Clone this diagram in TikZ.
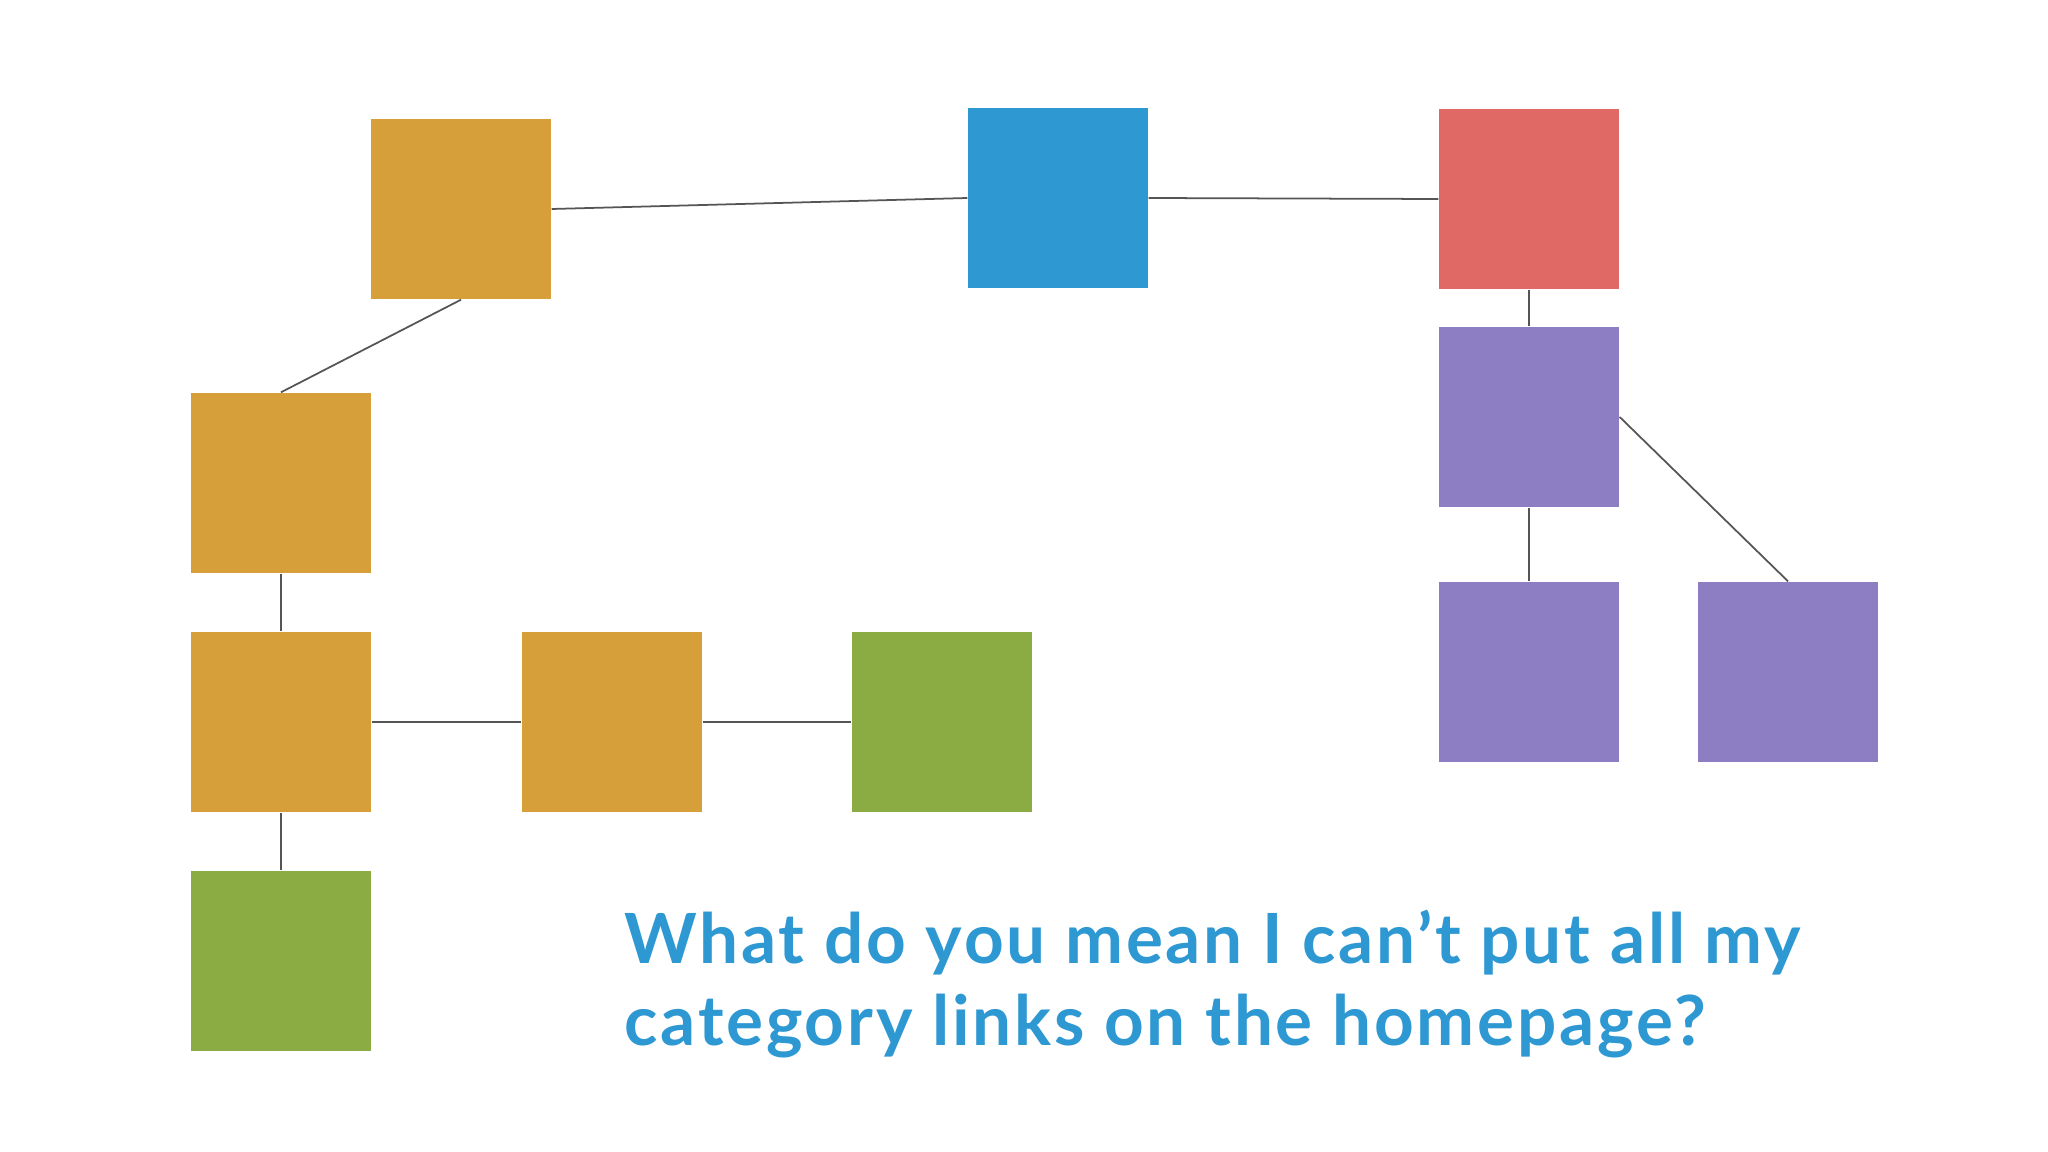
\documentclass[tikz,border=0pt]{standalone}
\usepackage{fontspec}
\setmainfont{Lato}
\newfontfamily\questionfont[LetterSpace=4.0]{Lato}
\usetikzlibrary{positioning}

\definecolor{catorange}{HTML}{D69F3A}
\definecolor{catblue}{HTML}{2E98D3}
\definecolor{catred}{HTML}{E06865}
\definecolor{catpurple}{HTML}{8D7DC3}
\definecolor{catgreen}{HTML}{8BAB43}
\definecolor{linkgray}{HTML}{555555}

\tikzset{
    box/.style={fill=#1, draw=none, minimum size=1.8cm, inner sep=0pt},
    link/.style={draw=linkgray, line width=0.5pt},
    question/.style={text=catblue, font=\questionfont\fontsize{19.7}{23.3}\selectfont\bfseries, inner sep=0pt, anchor=base west}
}

\begin{document}
\begin{tikzpicture}

    % Fix the page size
    \useasboundingbox[fill=white] (0,0) rectangle (20.48,-11.52);

    % Top row of the site map
    \node[box=catorange] (home) at (4.61,-2.09) {};
    \node[box=catblue] (hub) at (10.58,-1.98) {};
    \node[box=catred] (cat) at (15.29,-1.99) {};

    % Purple branch under the red box
    \node[box=catpurple] (sub) at (15.29,-4.17) {};
    \node[box=catpurple] (leafa) at (15.29,-6.72) {};
    \node[box=catpurple] (leafb) at (17.88,-6.72) {};

    % Orange branch on the left
    \node[box=catorange] (secA) at (2.81,-4.83) {};
    \node[box=catorange] (secB) at (2.81,-7.22) {};
    \node[box=catorange] (secC) at (6.12,-7.22) {};
    \node[box=catgreen] (endA) at (9.42,-7.22) {};
    \node[box=catgreen] (endB) at (2.81,-9.61) {};

    % Connectors
    \draw[link] (home.east) -- (hub.west);
    \draw[link] (hub.east) -- (cat.west);
    \draw[link] (cat.south) -- (sub.north);
    \draw[link] (sub.south) -- (leafa.north);
    \draw[link] (sub.east) -- (leafb.north);
    \draw[link] (home.south) -- (secA.north);
    \draw[link] (secA.south) -- (secB.north);
    \draw[link] (secB.east) -- (secC.west);
    \draw[link] (secC.east) -- (endA.west);
    \draw[link] (secB.south) -- (endB.north);

    % The question
    \node[question] (lineone) at (6.24,-9.63) {What do you mean I can’t put all my};
    \node[question] (linetwo) at (6.24,-10.45) {category links on the homepage?};
\end{tikzpicture}
\end{document}
